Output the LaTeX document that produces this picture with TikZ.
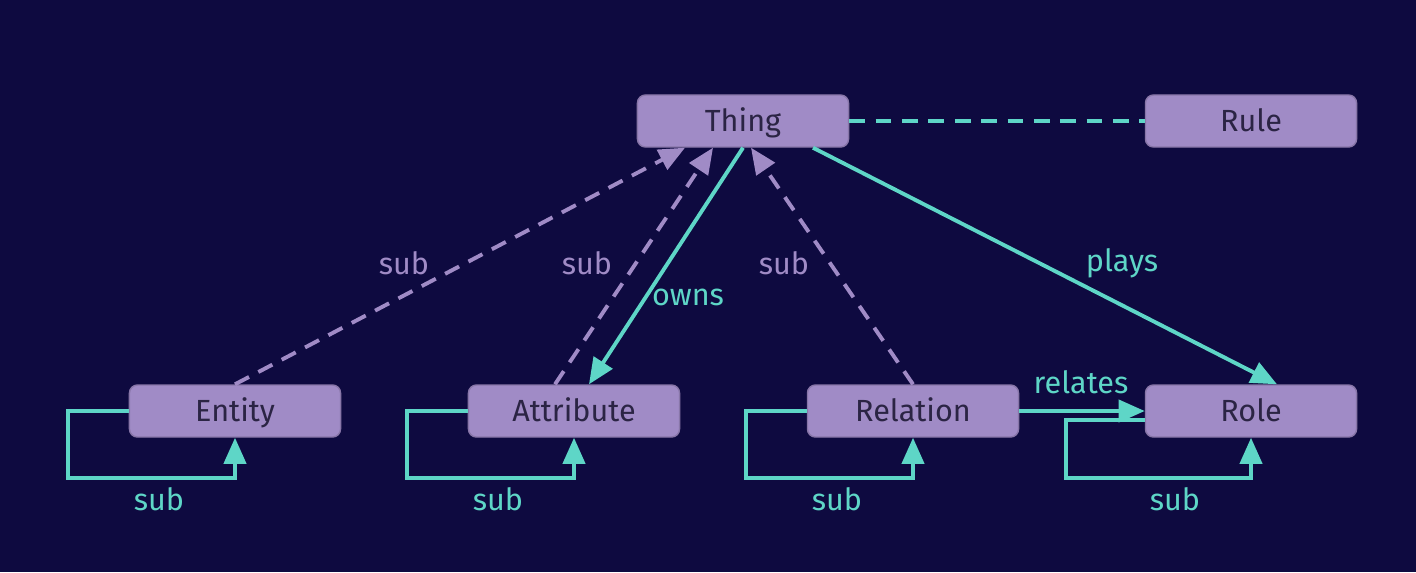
\documentclass[tikz,border=0pt]{standalone}
\usepackage{fontspec}
\setmainfont{Fira Sans}
\usetikzlibrary{arrows.meta, positioning, calc}
\definecolor{navy}{HTML}{0E0A40}
\definecolor{lilac}{HTML}{A08BC6}
\definecolor{ink}{HTML}{2B2444}
\definecolor{teal}{HTML}{5ED6C7}

\begin{document}
\begin{tikzpicture}[x=0.01cm, y=-0.01cm,
    concept/.style={draw=lilac!85!black, fill=lilac, rounded corners=0.8mm, minimum width=2.11cm,
      minimum height=0.52cm, inner sep=0pt, text height=2.1mm, text depth=0pt, text=ink,
      font=\fontsize{8.7}{10}\selectfont},
    rel/.style={draw=teal, line width=1.1pt, -{Triangle[length=2.6mm, width=2.2mm]}},
    subrel/.style={draw=lilac, line width=1.1pt, dash pattern=on 4.5pt off 3pt,
      -{Triangle[length=2.6mm, width=2.2mm]}},
    tlabel/.style={text=teal, font=\fontsize{8.7}{10}\selectfont},
    slabel/.style={text=lilac, font=\fontsize{8.7}{10}\selectfont}]
  \fill[navy] (0,0) rectangle (1416,572);
  \useasboundingbox (0,0) rectangle (1416,572);
  % the types
  \node[concept] (thing) at (743,121) {Thing};
  \node[concept] (rule) at (1251,121) {Rule};
  \node[concept] (entity) at (235,411) {Entity};
  \node[concept] (attribute) at (574,411) {Attribute};
  \node[concept] (relation) at (913,411) {Relation};
  \node[concept] (role) at (1251,411) {Role};
  % sub edges up to thing
  \draw[subrel] (entity.north) -- ($(thing.south)+(-58,0)$);
  \draw[subrel] ($(attribute.north)+(-19,0)$) -- ($(thing.south)+(-30,0)$);
  \draw[subrel] (relation.north) -- ($(thing.south)+(8,0)$);
  \node[slabel] (subE) at (404,263) {sub};
  \node[slabel] (subA) at (587,263) {sub};
  \node[slabel] (subR) at (784,263) {sub};
  % owns, plays, relates
  \draw[rel] (thing.south) -- ($(attribute.north)+(15,0)$);
  \draw[rel] ($(thing.south)+(70,0)$) -- ($(role.north)+(26,0)$);
  \draw[rel] (relation.east) -- (role.west);
  \draw[teal, line width=1.1pt, dash pattern=on 4.5pt off 3pt] (thing.east) -- (rule.west);
  \node[tlabel] (owns) at (688,297) {owns};
  \node[tlabel] (plays) at (1122,263) {plays};
  \node[tlabel] (relates) at (1081,382) {relates};
  % self loops
  \foreach \t/\n in {entity/E, attribute/A, relation/R} {
    \draw[rel] (\t.west) -- ++(-61,0) |- ($(\t.south)+(0,40)$) -- (\t.south);
    \node[tlabel] (loop\n) at ($(\t.south)+(-76,61)$) {sub};
  }
  \draw[rel] ($(role.west)+(0,9)$) -- ++(-79,0) |- ($(role.south)+(0,40)$) -- (role.south);
  \node[tlabel] (loopO) at ($(role.south)+(-76,61)$) {sub};
\end{tikzpicture}
\end{document}
